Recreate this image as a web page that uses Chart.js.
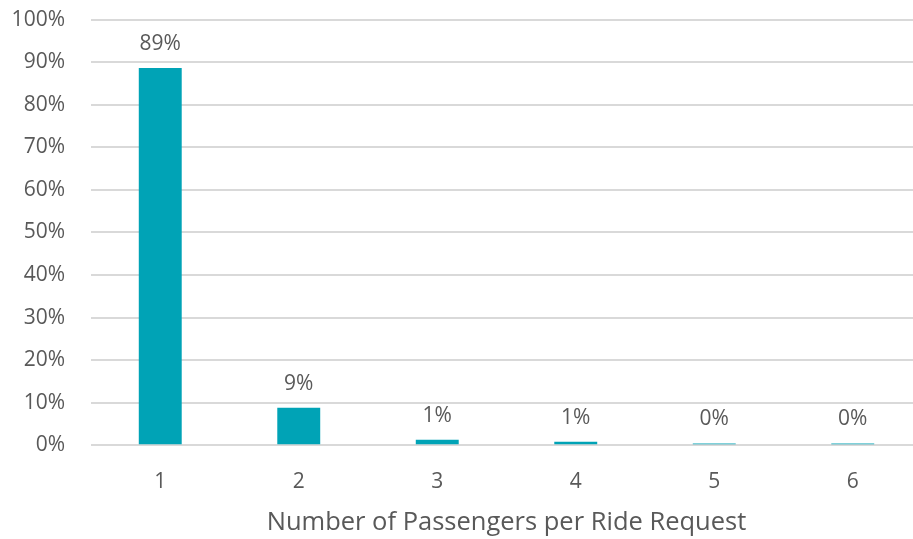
<!DOCTYPE html>
<html lang="en">
<head>
  <meta charset="UTF-8" />
  <title>Number of Passengers per Ride Request</title>
  <style>
    html, body {
      margin: 0;
      padding: 0;
      background: #ffffff;
      overflow: hidden;
    }
    #wrap {
      width: 922px;
      height: 558px;
      position: relative;
      top: -19px;
    }
  </style>
</head>
<body>
  <div id="wrap">
    <canvas id="myChart"></canvas>
  </div>

  <script src="https://cdn.jsdelivr.net/npm/chart.js"></script>
  <script>
    const passengers = ['1', '2', '3', '4', '5', '6'];
    const shares = [88.6, 8.8, 1.3, 0.8, 0.4, 0.4];
    const yTicks = [0, 10, 20, 30, 40, 50, 60, 70, 80, 90, 100];

    const barColor = '#00A3B6';
    const textColor = '#595959';
    const fontFamily = "'Open Sans', 'Noto Sans', sans-serif";

    // draws the rounded percentage above each bar
    const barLabels = {
      id: 'barLabels',
      afterDatasetsDraw(chart) {
        const ctx = chart.ctx;
        const meta = chart.getDatasetMeta(0);
        ctx.save();
        ctx.font = '21px ' + fontFamily;
        ctx.fillStyle = textColor;
        ctx.textAlign = 'center';
        ctx.textBaseline = 'middle';
        meta.data.forEach((bar, i) => {
          ctx.fillText(Math.round(shares[i]) + '%', bar.x, bar.y - 24);
        });
        ctx.restore();
      }
    };

    new Chart(document.getElementById('myChart'), {
      type: 'bar',
      data: {
        labels: passengers,
        datasets: [{
          data: shares,
          backgroundColor: barColor,
          borderWidth: 0,
          barPercentage: 0.31,
          categoryPercentage: 1
        }]
      },
      plugins: [barLabels],
      options: {
        responsive: true,
        maintainAspectRatio: false,
        animation: false,
        layout: {
          padding: { top: 0, right: 0, bottom: 1, left: 0 }
        },
        plugins: {
          legend: { display: false },
          tooltip: { enabled: false }
        },
        scales: {
          x: {
            grid: { display: false, drawTicks: false },
            border: { display: false },
            ticks: {
              color: textColor,
              font: { size: 21, family: fontFamily },
              padding: 24
            },
            title: {
              display: true,
              text: 'Number of Passengers per Ride Request',
              color: textColor,
              font: { size: 25.5, family: fontFamily },
              padding: { top: -11, bottom: 0 }
            }
          },
          y: {
            min: 0,
            max: 100,
            afterBuildTicks: scale => {
              scale.ticks = yTicks.map(v => ({ value: v }));
            },
            afterFit: scale => {
              scale.width = 91;
            },
            grid: { color: '#d9d9d9', lineWidth: 2, drawTicks: false },
            border: { display: false },
            ticks: {
              color: textColor,
              font: { size: 21, family: fontFamily },
              padding: 26,
              callback: v => v + '%'
            }
          }
        }
      }
    });
  </script>
</body>
</html>
